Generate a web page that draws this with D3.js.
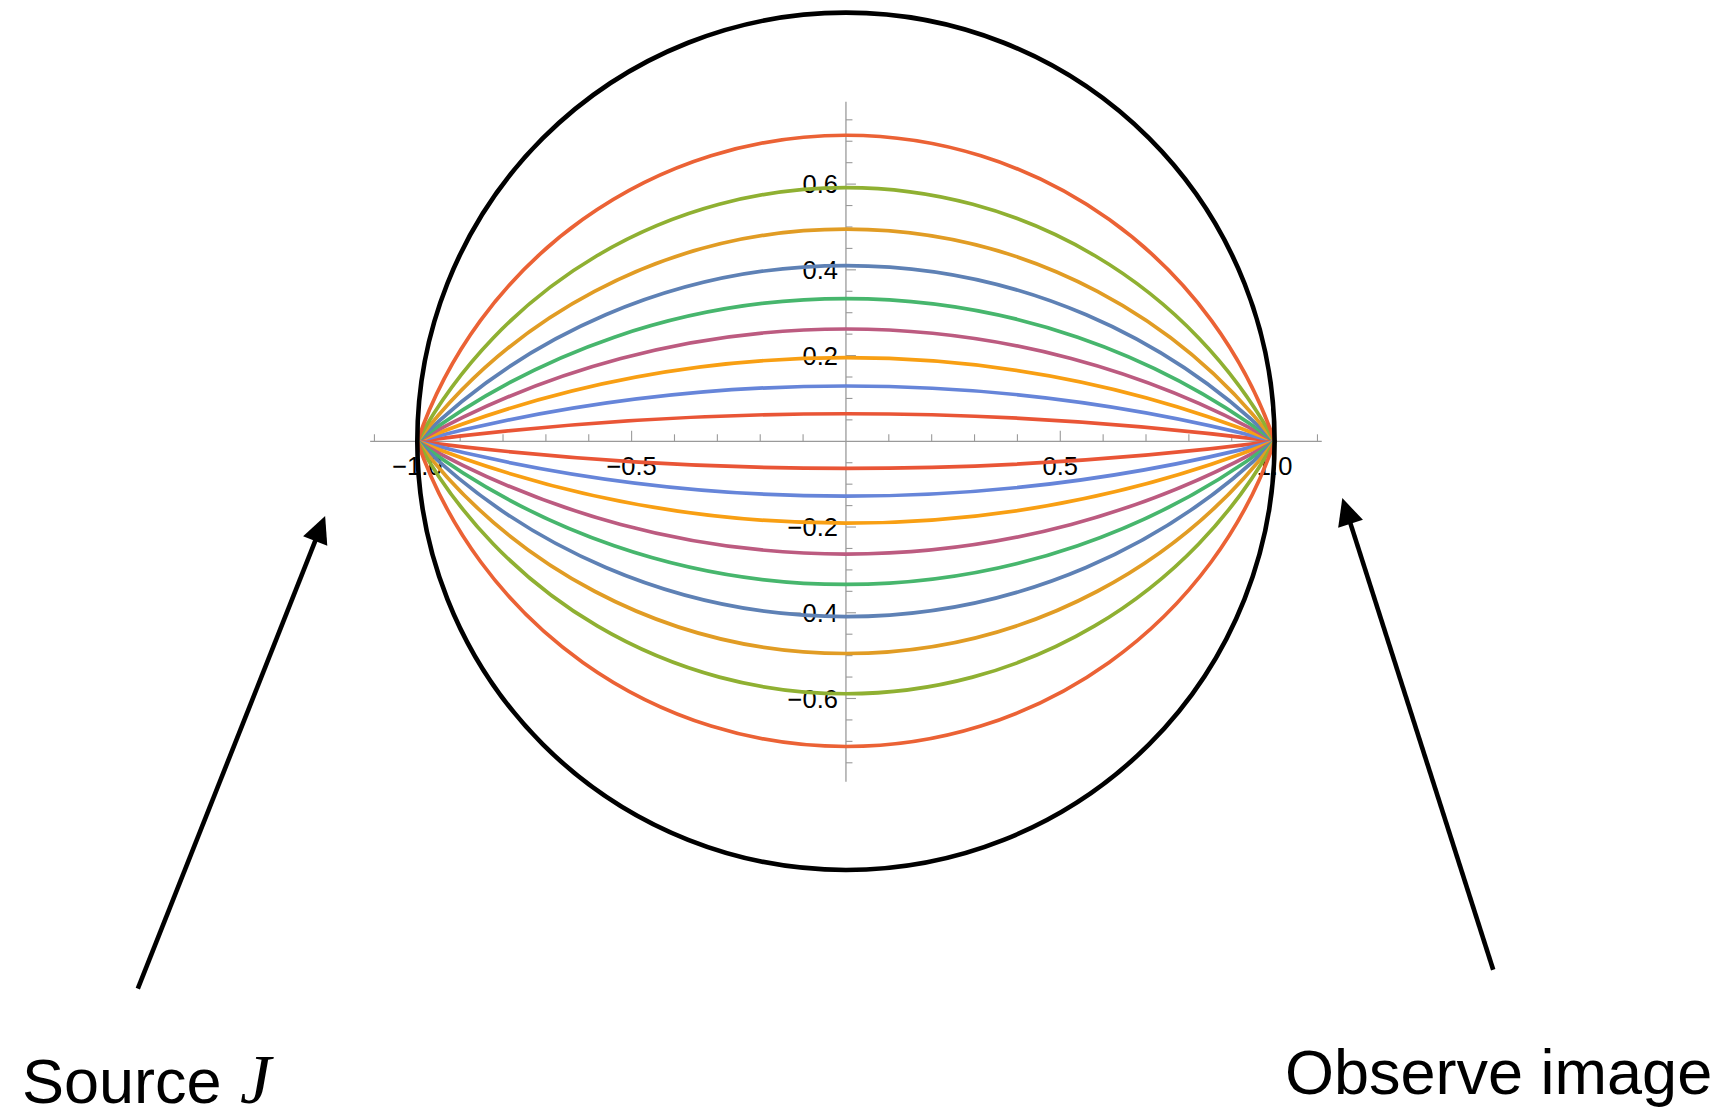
<!DOCTYPE html>
<html>
<head>
<meta charset="utf-8">
<script src="https://cdn.jsdelivr.net/npm/d3@7"></script>
<style>
  html, body { margin: 0; padding: 0; background: #fff; }
  svg { display: block; }
</style>
</head>
<body>
<svg id="chart" width="1728" height="1115"></svg>
<script>
// Ray heights at x = 0 (top family and bottom family), inner ray first
const upperRayHeights = [0.064, 0.129, 0.195, 0.262, 0.333, 0.410, 0.495, 0.592, 0.714];
const lowerRayHeights = [-0.063, -0.128, -0.191, -0.263, -0.334, -0.409, -0.495, -0.589, -0.712];
const rayColors = ["#E95536", "#6685D9", "#F89F13", "#BC5B80", "#47B66D", "#5E81B5", "#E19C24", "#8FB032", "#EB6235"];

// Source and image points on the lens boundary
const sourcePoint = [-1, 0];
const imagePoint = [1, 0];
const lensRadius = 1;

// Axis ticks
const xMajorTicks = [-1.0, -0.5, 0.5, 1.0];
const xTickLabels = ["\u22121.0", "\u22120.5", "0.5", "1.0"];
const yMajorTicks = [-0.6, -0.4, -0.2, 0.2, 0.4, 0.6];
const yTickLabels = ["\u22120.6", "\u22120.4", "\u22120.2", "0.2", "0.4", "0.6"];
const xAxisExtent = [-1.11, 1.11];
const yAxisExtent = [-0.794, 0.792];

// Annotation arrows (tail, tip) in plot units
const arrowLeft = [[-1.652, -1.277], [-1.215, -0.174]];
const arrowRight = [[1.510, -1.233], [1.158, -0.1325]];

const svg = d3.select("#chart");

const x = d3.scaleLinear().domain([-1, 1]).range([417.3, 1274.6]);
const unit = x(1) - x(0);
const y = d3.scaleLinear().domain([-1, 1]).range([441.3 + unit, 441.3 - unit]);

const axisColor = "#9a9a9a";
const sansFont = "'Liberation Sans', Arial, Helvetica, sans-serif";

// ---- axes ----
const axes = svg.append("g");
axes.append("line")
  .attr("x1", x(xAxisExtent[0])).attr("x2", x(xAxisExtent[1]))
  .attr("y1", y(0)).attr("y2", y(0))
  .attr("stroke", axisColor).attr("stroke-width", 1.3);
axes.append("line")
  .attr("x1", x(0)).attr("x2", x(0))
  .attr("y1", y(yAxisExtent[0])).attr("y2", y(yAxisExtent[1]))
  .attr("stroke", axisColor).attr("stroke-width", 1.3);

// x ticks: minor every 0.1, major every 0.5, drawn upward from the axis
const xMinor = d3.range(-11, 12).map(i => i / 10).filter(v => Math.abs(v) > 1e-9);
axes.selectAll("line.xtick").data(xMinor).join("line")
  .attr("class", "xtick")
  .attr("x1", d => x(d)).attr("x2", d => x(d))
  .attr("y1", y(0))
  .attr("y2", d => y(0) - (Math.abs(Math.round(d * 10) % 5) === 0 ? 10.5 : 7))
  .attr("stroke", axisColor).attr("stroke-width", 1.1);

// y ticks: minor every 0.05, major every 0.2, drawn to the right of the axis
const yMinor = d3.range(-15, 16).map(i => i / 20).filter(v => Math.abs(v) > 1e-9);
axes.selectAll("line.ytick").data(yMinor).join("line")
  .attr("class", "ytick")
  .attr("y1", d => y(d)).attr("y2", d => y(d))
  .attr("x1", x(0))
  .attr("x2", d => x(0) + (Math.abs(Math.round(d * 20) % 4) === 0 ? 10 : 6.5))
  .attr("stroke", axisColor).attr("stroke-width", 1.1);

axes.selectAll("text.xlab").data(xMajorTicks).join("text")
  .attr("class", "xlab")
  .attr("x", d => x(d))
  .attr("y", y(0) + 34)
  .attr("text-anchor", "middle")
  .attr("font-family", sansFont)
  .attr("font-size", 25.5)
  .attr("fill", "#000")
  .text((d, i) => xTickLabels[i]);

axes.selectAll("text.ylab").data(yMajorTicks).join("text")
  .attr("class", "ylab")
  .attr("x", x(0) - 8)
  .attr("y", d => y(d))
  .attr("dy", "0.36em")
  .attr("text-anchor", "end")
  .attr("font-family", sansFont)
  .attr("font-size", 25.5)
  .attr("fill", "#000")
  .text((d, i) => yTickLabels[i]);

// ---- rays: circular arcs from the source point to the image point ----
function rayPath(h) {
  const R = (1 + h * h) / (2 * Math.abs(h)) * unit;
  const sweep = h > 0 ? 1 : 0;
  return `M${x(sourcePoint[0])},${y(sourcePoint[1])} A${R},${R} 0 0 ${sweep} ${x(imagePoint[0])},${y(imagePoint[1])}`;
}

const rays = upperRayHeights.map((h, i) => ({ h, color: rayColors[i] }))
  .concat(lowerRayHeights.map((h, i) => ({ h, color: rayColors[i] })));

svg.append("g").selectAll("path").data(rays).join("path")
  .attr("d", d => rayPath(d.h))
  .attr("fill", "none")
  .attr("stroke", d => d.color)
  .attr("stroke-width", 3.7)
  .attr("stroke-linecap", "round");

// ---- lens boundary ----
svg.append("circle")
  .attr("cx", x(0)).attr("cy", y(0))
  .attr("r", x(lensRadius) - x(0))
  .attr("fill", "none")
  .attr("stroke", "#000")
  .attr("stroke-width", 4.6);

// ---- annotation arrows ----
function drawArrow(a) {
  const [t0, t1] = a;
  const x0 = x(t0[0]), y0 = y(t0[1]), x1 = x(t1[0]), y1 = y(t1[1]);
  const dx = x1 - x0, dy = y1 - y0, len = Math.hypot(dx, dy);
  const ux = dx / len, uy = dy / len;
  const headLen = 27, headHalf = 13;
  const bx = x1 - ux * headLen, by = y1 - uy * headLen;
  const g = svg.append("g");
  g.append("line")
    .attr("x1", x0).attr("y1", y0)
    .attr("x2", bx + ux * 2).attr("y2", by + uy * 2)
    .attr("stroke", "#000").attr("stroke-width", 4.6);
  g.append("path")
    .attr("d", `M${x1},${y1} L${bx - uy * headHalf},${by + ux * headHalf} L${bx + uy * headHalf},${by - ux * headHalf} Z`)
    .attr("fill", "#000");
}
drawArrow(arrowLeft);
drawArrow(arrowRight);

// ---- captions ----
svg.append("text")
  .attr("x", 22).attr("y", 1103)
  .attr("font-family", sansFont)
  .attr("font-size", 63)
  .attr("fill", "#000")
  .text("Source");
// italic J, with a trailing thin space so the slanted glyph stays inside its box
svg.append("text")
  .attr("x", 240).attr("y", 1103)
  .attr("font-family", "'Liberation Serif', 'Times New Roman', serif")
  .attr("font-style", "italic")
  .attr("font-size", 70)
  .attr("fill", "#000")
  .text("J\u2009");

svg.append("text")
  .attr("x", 1285).attr("y", 1094)
  .attr("font-family", sansFont)
  .attr("font-size", 63)
  .attr("fill", "#000")
  .text("Observe image");
</script>
</body>
</html>
